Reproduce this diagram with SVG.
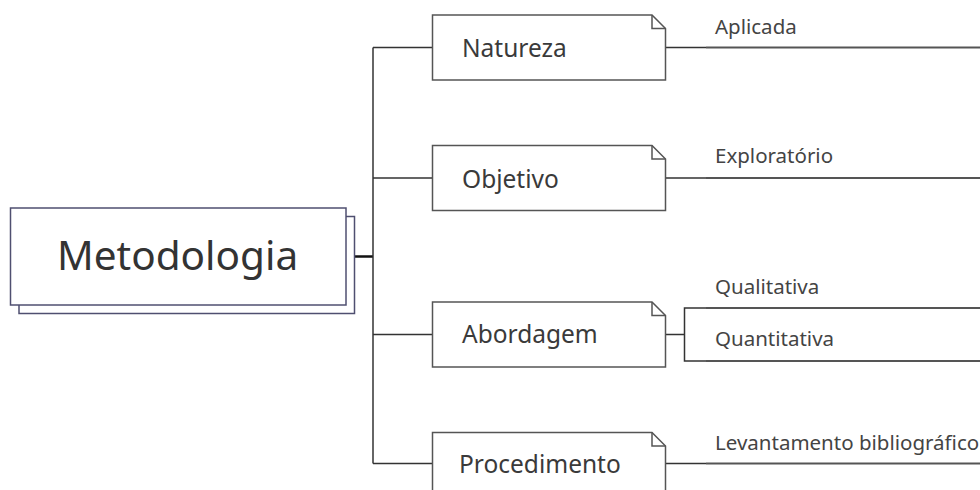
<svg xmlns="http://www.w3.org/2000/svg" width="980" height="490" viewBox="0 0 980 490">
<style>
.bg{fill:#fff}
.note{fill:#fff;stroke:#555;stroke-width:1.5}
.fold{fill:none;stroke:#555;stroke-width:1.5}
.main{fill:#fff;stroke:#4f4f70;stroke-width:1.5}
.conn{fill:none;stroke:#333;stroke-width:1.5}
.under{fill:none;stroke:#555;stroke-width:2}
.t1{font-family:"Noto Sans","Open Sans",sans-serif;font-size:40.5px;fill:#333}
.t2{font-family:"Noto Sans","Open Sans",sans-serif;font-size:24.5px;fill:#3a3a3a}
.t3{font-family:"Noto Sans","Open Sans",sans-serif;font-size:20.5px;fill:#444}
</style>
<rect class="bg" x="0" y="0" width="980" height="490"/>
<g id="connectors">
<path class="conn" d="M355,256.5 H373" style="stroke-width:2.5;stroke:#111"/>
<path class="conn" d="M373,47.5 V463.5"/>
<path class="conn" d="M373,47.5 H432.5 M373,178 H432.5 M373,334.5 H432.5 M373,463.5 H432.5"/>
<path class="conn" d="M665.5,47.5 H706 M665.5,178 H706 M665.5,334.5 H684.5 V308 H706 M684.5,334.5 V361 H706 M665.5,463.5 H706"/>
<path class="under" d="M706,47.5 H980 M706,178 H980 M706,308 H980 M706,361 H980 M706,463.5 H980"/>
</g>
<g id="metodologia">
<rect class="main" x="19" y="216.5" width="335.5" height="97"/>
<rect class="main" x="10.5" y="208" width="335.5" height="97"/>
<text class="t1" x="57" y="270">Metodologia</text>
</g>
<g id="natureza">
<path class="note" d="M432.5,15 H652 L665.5,28.5 V80 H432.5 Z"/>
<path class="fold" d="M652,15 V28.5 H665.5"/>
<text class="t2" x="462" y="57">Natureza</text>
</g>
<g id="objetivo">
<path class="note" d="M432.5,145.5 H652 L665.5,159 V210.5 H432.5 Z"/>
<path class="fold" d="M652,145.5 V159 H665.5"/>
<text class="t2" x="462" y="188">Objetivo</text>
</g>
<g id="abordagem">
<path class="note" d="M432.5,302 H652 L665.5,315.5 V367 H432.5 Z"/>
<path class="fold" d="M652,302 V315.5 H665.5"/>
<text class="t2" x="462" y="343">Abordagem</text>
</g>
<g id="procedimento">
<path class="note" d="M432.5,432.5 H652 L665.5,446 V500 H432.5 Z"/>
<path class="fold" d="M652,432.5 V446 H665.5"/>
<text class="t2" x="459" y="473">Procedimento</text>
</g>
<g id="aplicada"><text class="t3" x="715" y="34">Aplicada</text></g>
<g id="exploratorio"><text class="t3" x="715" y="163">Exploratório</text></g>
<g id="qualitativa"><text class="t3" x="715" y="294">Qualitativa</text></g>
<g id="quantitativa"><text class="t3" x="715" y="346">Quantitativa</text></g>
<g id="levantamento"><text class="t3" x="715" y="450">Levantamento bibliográfico</text></g>
</svg>
